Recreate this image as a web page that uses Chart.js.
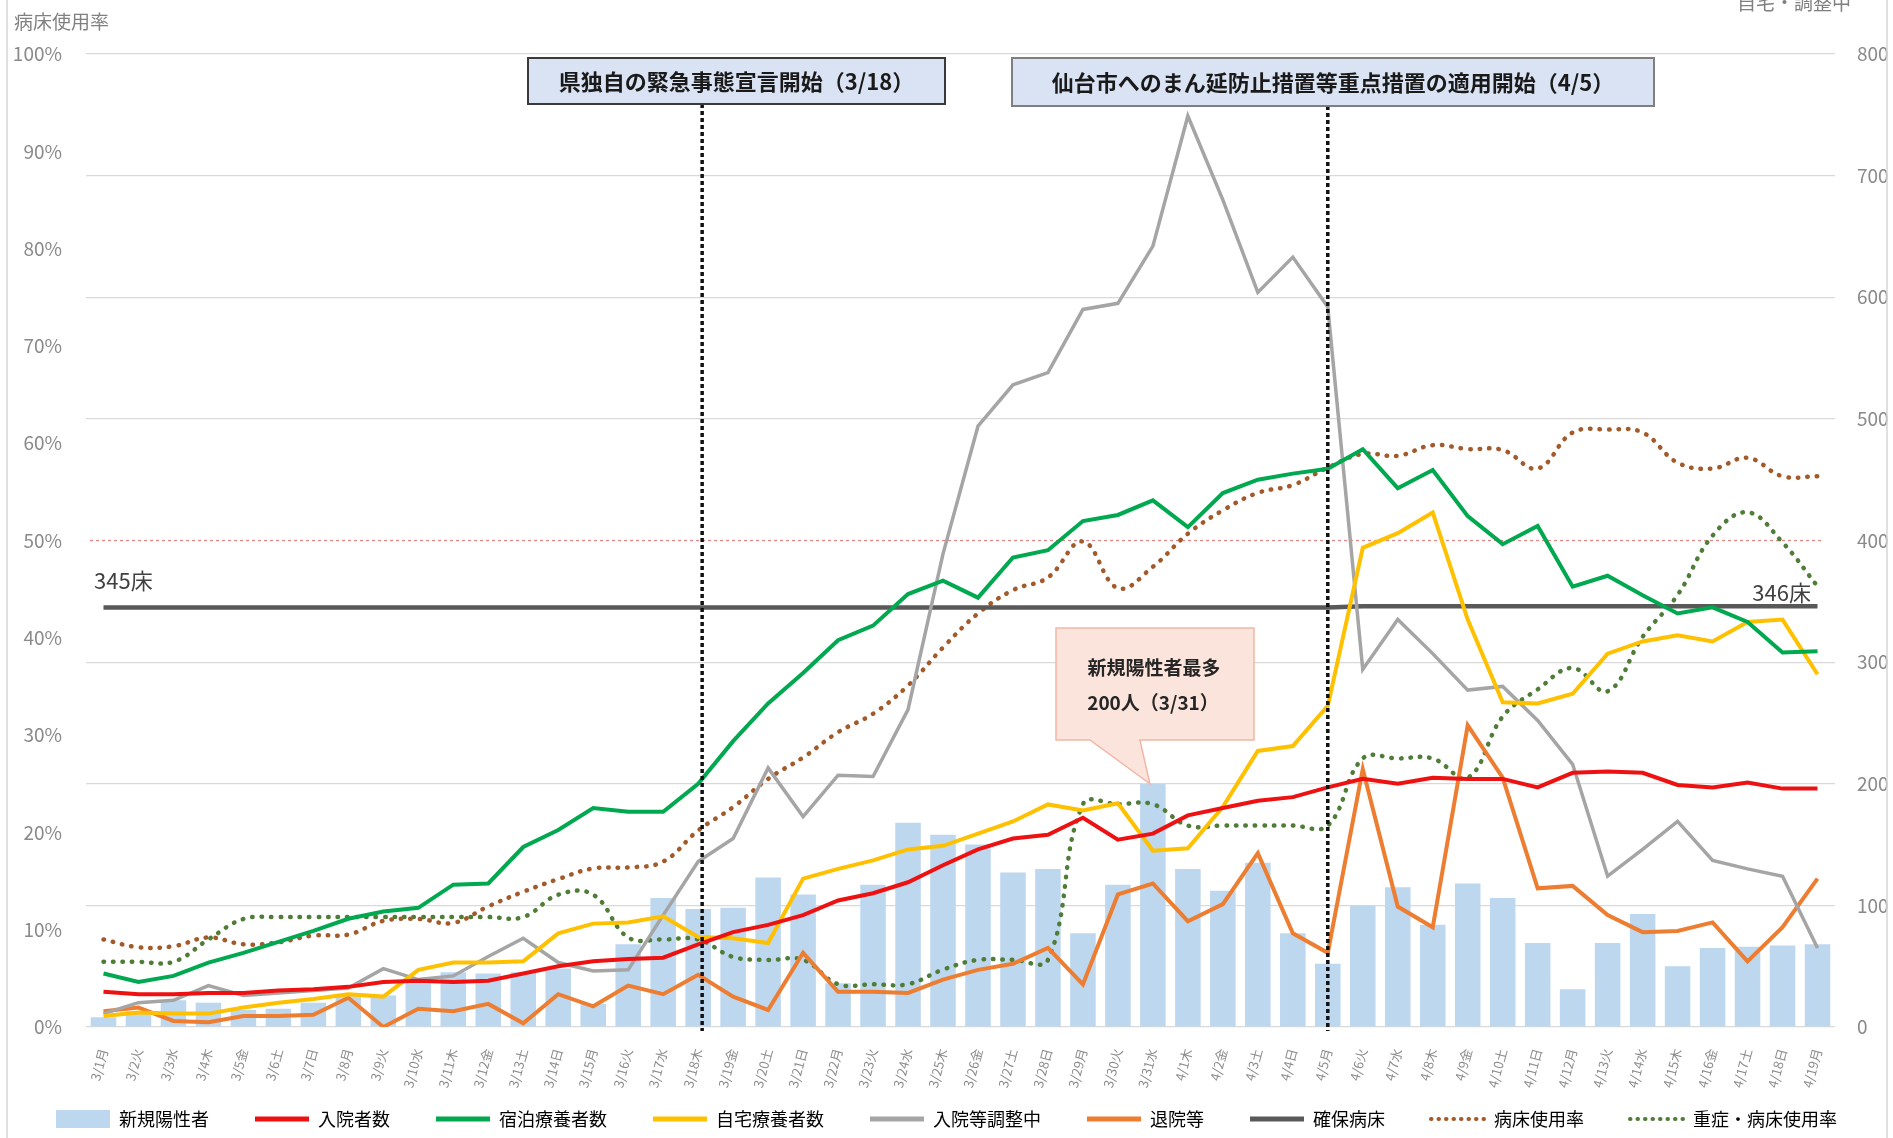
<!DOCTYPE html>
<html>
<head>
<meta charset="utf-8">
<script src="https://cdn.jsdelivr.net/npm/chart.js@4.4.1/dist/chart.umd.min.js"></script>
<style>
  html, body { margin: 0; padding: 0; background: #fff; }
  canvas { display: block; }
</style>
</head>
<body>
<canvas id="chart" width="1893" height="1138"></canvas>
<script>
/* ===================== DATA ===================== */

const dates = [
  "3/1月","3/2火","3/3水","3/4木","3/5金","3/6土","3/7日","3/8月","3/9火","3/10水",
  "3/11木","3/12金","3/13土","3/14日","3/15月","3/16火","3/17水","3/18木","3/19金","3/20土",
  "3/21日","3/22月","3/23火","3/24水","3/25木","3/26金","3/27土","3/28日","3/29月","3/30火",
  "3/31水","4/1木","4/2金","4/3土","4/4日","4/5月","4/6火","4/7水","4/8木","4/9金",
  "4/10土","4/11日","4/12月","4/13火","4/14水","4/15木","4/16金","4/17土","4/18日","4/19月"
];

// 新規陽性者 (right axis)
const newCases = [
  8,13,22,20,14,15,20,26,26,37, 45,44,45,48,19,68,106,97,98,123,
  109,36,117,168,158,150,127,130,77,117, 200,130,112,135,77,52,100,115,84,118,
  106,69,31,69,93,50,65,66,67,68
];

// 入院者数
const hospitalized = [
  29,27,27,28,28,30,31,33,37,38, 37,38,44,50,54,56,57,68,78,84,
  92,104,110,119,133,146,155,158,172,154, 159,174,180,186,189,197,204,200,205,204,
  204,197,209,210,209,199,197,201,196,196
];

// 宿泊療養者数
const hotel = [
  44,37,42,53,61,70,79,89,95,98, 117,118,148,162,180,177,177,200,235,266,
  291,318,330,356,367,353,386,392,416,421, 433,411,439,450,455,459,475,443,458,420,
  397,412,362,371,355,340,345,333,308,309
];

// 自宅療養者数
const home = [
  9,12,11,11,16,20,23,27,25,47, 53,53,54,77,85,86,91,74,73,69,
  122,130,137,146,149,159,169,183,178,184, 145,147,181,227,231,264,394,406,423,335,
  267,266,274,307,317,322,317,333,335,290
];

// 入院等調整中
const adjusting = [
  11,20,22,34,26,28,30,32,48,39, 42,58,73,53,46,47,92,136,155,213,
  173,207,206,261,389,494,528,538,590,595, 642,749,680,604,633,592,294,335,307,277,
  280,252,216,124,146,169,137,130,124,65
];

// 退院等
const discharged = [
  13,16,5,4,9,9,10,24,0,15, 13,19,3,27,17,34,27,43,25,14,
  61,29,29,28,39,47,52,65,35,109, 118,87,101,143,77,61,212,99,82,248,
  205,114,116,92,78,79,86,54,82,122
];

// 確保病床
const securedBeds = [
  345,345,345,345,345,345,345,345,345,345, 345,345,345,345,345,345,345,345,345,345,
  345,345,345,345,345,345,345,345,345,345, 345,345,345,345,345,345,346,346,346,346,
  346,346,346,346,346,346,346,346,346,346
];

// 病床使用率 (%; left axis)
const bedRate = [
  9.0,8.2,8.3,9.2,8.5,8.7,9.4,9.5,10.9,11.1, 10.7,12.4,13.9,15.2,16.3,16.4,17.0,20.2,22.6,25.5,
  27.7,30.3,32.2,35.1,39.0,42.5,44.9,46.2,49.9,45.1, 47.3,50.7,53.1,54.9,55.7,57.5,58.9,58.7,59.8,59.4,
  59.3,57.4,61.1,61.4,61.1,58.0,57.4,58.5,56.6,56.6
];

// 重症・病床使用率 (%; left axis)
const severeRate = [
  6.7,6.7,6.7,9.0,11.1,11.3,11.3,11.3,11.3,11.3, 11.3,11.3,11.3,13.6,13.6,9.2,9.0,9.0,7.2,6.9,
  6.9,4.4,4.4,4.4,5.9,6.9,6.9,6.9,22.9,22.9, 22.9,20.7,20.7,20.7,20.7,20.7,27.6,27.6,27.6,25.6,
  31.9,34.7,36.9,34.5,40.1,44.4,50.5,52.9,49.8,45.3
];

const leftTicks = [0,10,20,30,40,50,60,70,80,90,100];
const rightTicks = [0,100,200,300,400,500,600,700,800];

/* ===================== STYLE ===================== */

const FONT = "'Noto Sans CJK JP', 'Noto Sans', sans-serif";
Chart.defaults.font.family = FONT;

const C = {
  bar: "#bdd7ee",
  red: "#ee1111",
  green: "#00a850",
  yellow: "#ffc000",
  gray: "#a5a5a5",
  orange: "#ed7d31",
  beds: "#595959",
  brown: "#a35a2a",
  dgreen: "#4f7d37",
  tick: "#8a8a8a"
};

const DOT = [0.5, 9];

function lineSet(label, data, color, axis, extra) {
  return Object.assign({
    type: "line",
    label,
    data,
    yAxisID: axis,
    borderColor: color,
    backgroundColor: color,
    borderWidth: 4,
    pointRadius: 0,
    pointHoverRadius: 0,
    tension: 0,
    fill: false,
    order: 1
  }, extra || {});
}

const legendItems = [
  { text: "新規陽性者", kind: "rect", color: C.bar },
  { text: "入院者数", kind: "line", color: C.red },
  { text: "宿泊療養者数", kind: "line", color: C.green },
  { text: "自宅療養者数", kind: "line", color: C.yellow },
  { text: "入院等調整中", kind: "line", color: C.gray },
  { text: "退院等", kind: "line", color: C.orange },
  { text: "確保病床", kind: "line", color: C.beds },
  { text: "病床使用率", kind: "dot", color: C.brown },
  { text: "重症・病床使用率", kind: "dot", color: C.dgreen }
];

/* ===================== ANNOTATIONS ===================== */

function textAt(ctx, s, x, y, font, color, align) {
  ctx.font = font;
  ctx.fillStyle = color;
  ctx.textAlign = align || "left";
  ctx.textBaseline = "middle";
  ctx.fillText(s, x, y);
}

const annotate = {
  id: "annotate",
  beforeDatasetsDraw(chart) {
    const { ctx, chartArea, scales } = chart;
    const y50 = scales.yL.getPixelForValue(50);
    ctx.save();
    ctx.strokeStyle = "rgba(225,110,110,0.85)";
    ctx.lineWidth = 1.2;
    ctx.setLineDash([3, 3]);
    ctx.beginPath();
    ctx.moveTo(chartArea.left + 4, y50);
    ctx.lineTo(chartArea.right - 14, y50);
    ctx.stroke();
    ctx.restore();
  },
  afterDatasetsDraw(chart) {
    const { ctx, chartArea, scales } = chart;
    const x = scales.x, yR = scales.yR;
    ctx.save();

    // frame
    ctx.strokeStyle = "#d6d6d6";
    ctx.lineWidth = 1.5;
    ctx.beginPath();
    ctx.moveTo(7, 0); ctx.lineTo(7, 1138);
    ctx.moveTo(1887, 0); ctx.lineTo(1887, 1138);
    ctx.stroke();

    // axis titles
    textAt(ctx, "病床使用率", 14, 22, "19px " + FONT, "#808080");
    textAt(ctx, "自宅・調整中", 1737, 3, "19px " + FONT, "#808080");

    // bed labels
    const yBeds = yR.getPixelForValue(securedBeds[0]);
    textAt(ctx, "345床", 94, yBeds - 27, "22px " + FONT, "#404040");
    textAt(ctx, "346床", 1811, yBeds - 15, "22px " + FONT, "#404040", "right");

    // vertical dotted event lines
    ctx.strokeStyle = "#111";
    ctx.lineWidth = 3.5;
    ctx.setLineDash([4, 3]);
    const x1 = x.getPixelForValue(17) + 4;
    const x2 = x.getPixelForValue(35);
    ctx.beginPath();
    ctx.moveTo(x1, 104); ctx.lineTo(x1, chartArea.bottom + 4);
    ctx.moveTo(x2, 106); ctx.lineTo(x2, chartArea.bottom + 4);
    ctx.stroke();
    ctx.setLineDash([]);

    // event boxes
    const boxes = [
      { x: 528, y: 58, w: 417, h: 46, border: "#3a3a3a", text: "県独自の緊急事態宣言開始（3/18）" },
      { x: 1012, y: 58, w: 642, h: 48, border: "#7f7f7f", text: "仙台市へのまん延防止措置等重点措置の適用開始（4/5）" }
    ];
    boxes.forEach(b => {
      ctx.fillStyle = "#dae3f3";
      ctx.fillRect(b.x, b.y, b.w, b.h);
      ctx.strokeStyle = b.border;
      ctx.lineWidth = 2;
      ctx.strokeRect(b.x, b.y, b.w, b.h);
      textAt(ctx, b.text, b.x + b.w / 2, b.y + b.h / 2 + 1, "bold 22px " + FONT, "#1a1a1a", "center");
    });

    // callout for max new cases
    const tipX = x.getPixelForValue(30) - 3;
    const tipY = yR.getPixelForValue(newCases[30]);
    const bx = 1056, by = 628, bw = 198, bh = 112;
    ctx.fillStyle = "#fbe4dc";
    ctx.strokeStyle = "#f2b6a6";
    ctx.lineWidth = 1.5;
    ctx.beginPath();
    ctx.moveTo(bx, by);
    ctx.lineTo(bx + bw, by);
    ctx.lineTo(bx + bw, by + bh);
    ctx.lineTo(tipX - 10, by + bh);
    ctx.lineTo(tipX, tipY);
    ctx.lineTo(tipX - 60, by + bh);
    ctx.lineTo(bx, by + bh);
    ctx.closePath();
    ctx.fill();
    ctx.stroke();
    textAt(ctx, "新規陽性者最多", 1154, 668, "bold 19px " + FONT, "#262626", "center");
    textAt(ctx, "200人（3/31）", 1153, 703, "bold 19px " + FONT, "#262626", "center");

    ctx.restore();
  }
};

/* ===================== CHART ===================== */

// gap between legend entries: small padding + two ideographic spaces after each label
const GAP = "\u3000\u3000";

new Chart(document.getElementById("chart"), {
  data: {
    labels: dates,
    datasets: [
      lineSet("入院者数", hospitalized, C.red, "yR"),
      lineSet("宿泊療養者数", hotel, C.green, "yR"),
      lineSet("自宅療養者数", home, C.yellow, "yR"),
      lineSet("入院等調整中", adjusting, C.gray, "yR", { borderWidth: 3.5 }),
      lineSet("退院等", discharged, C.orange, "yR"),
      lineSet("確保病床", securedBeds, C.beds, "yR", { borderWidth: 4.5 }),
      lineSet("病床使用率", bedRate, C.brown, "yL", { borderDash: DOT, borderCapStyle: "round", borderWidth: 4.5, tension: 0.4 }),
      lineSet("重症・病床使用率", severeRate, C.dgreen, "yL", { borderDash: DOT, borderCapStyle: "round", borderWidth: 4.5, tension: 0.4 }),
      {
        type: "bar",
        label: "新規陽性者",
        data: newCases,
        yAxisID: "yR",
        backgroundColor: C.bar,
        barPercentage: 0.73,
        categoryPercentage: 1,
        order: 10
      }
    ]
  },
  options: {
    responsive: false,
    animation: false,
    devicePixelRatio: 1,
    layout: { padding: { top: 54, left: 0, right: 0, bottom: 0 } },
    plugins: {
      tooltip: { enabled: false },
      legend: {
        position: "bottom",
        labels: {
          usePointStyle: true,
          pointStyleWidth: 54,
          font: { size: 18 },
          color: "#595959",
          padding: 10,
          generateLabels: () => legendItems.map((it, i) => ({
            text: i < legendItems.length - 1 ? it.text + GAP : it.text,
            datasetIndex: i,
            hidden: false,
            pointStyle: it.kind === "rect" ? "rect" : "line",
            fillStyle: it.color,
            strokeStyle: it.color,
            lineWidth: it.kind === "rect" ? 0 : (it.kind === "dot" ? 4 : 5),
            lineDash: it.kind === "dot" ? [0.5, 7] : [],
            lineCap: it.kind === "dot" ? "round" : "butt"
          }))
        }
      }
    },
    scales: {
      x: {
        offset: true,
        grid: { display: false },
        border: { display: false },
        ticks: {
          autoSkip: false,
          minRotation: 75,
          maxRotation: 75,
          color: "#8c8c8c",
          font: { size: 13 },
          padding: 12
        },
        afterFit(s) { s.height = 73; }
      },
      yL: {
        position: "left",
        min: 0,
        max: 100,
        afterBuildTicks(s) { s.ticks = leftTicks.map(v => ({ value: v })); },
        ticks: { callback: v => v + "%", color: C.tick, font: { size: 19 }, padding: 16 },
        grid: { display: false },
        border: { display: false },
        afterFit(s) { s.width = 86; }
      },
      yR: {
        position: "right",
        min: 0,
        max: 800,
        afterBuildTicks(s) { s.ticks = rightTicks.map(v => ({ value: v })); },
        ticks: { color: C.tick, font: { size: 19 }, padding: 22 },
        grid: {
          color: c => (c.tick && c.tick.value === 400) ? "rgba(0,0,0,0)" : "#d9d9d9",
          lineWidth: 1.2,
          drawTicks: false
        },
        border: { display: false },
        afterFit(s) { s.width = 58; }
      }
    }
  },
  plugins: [annotate]
});
</script>
</body>
</html>
